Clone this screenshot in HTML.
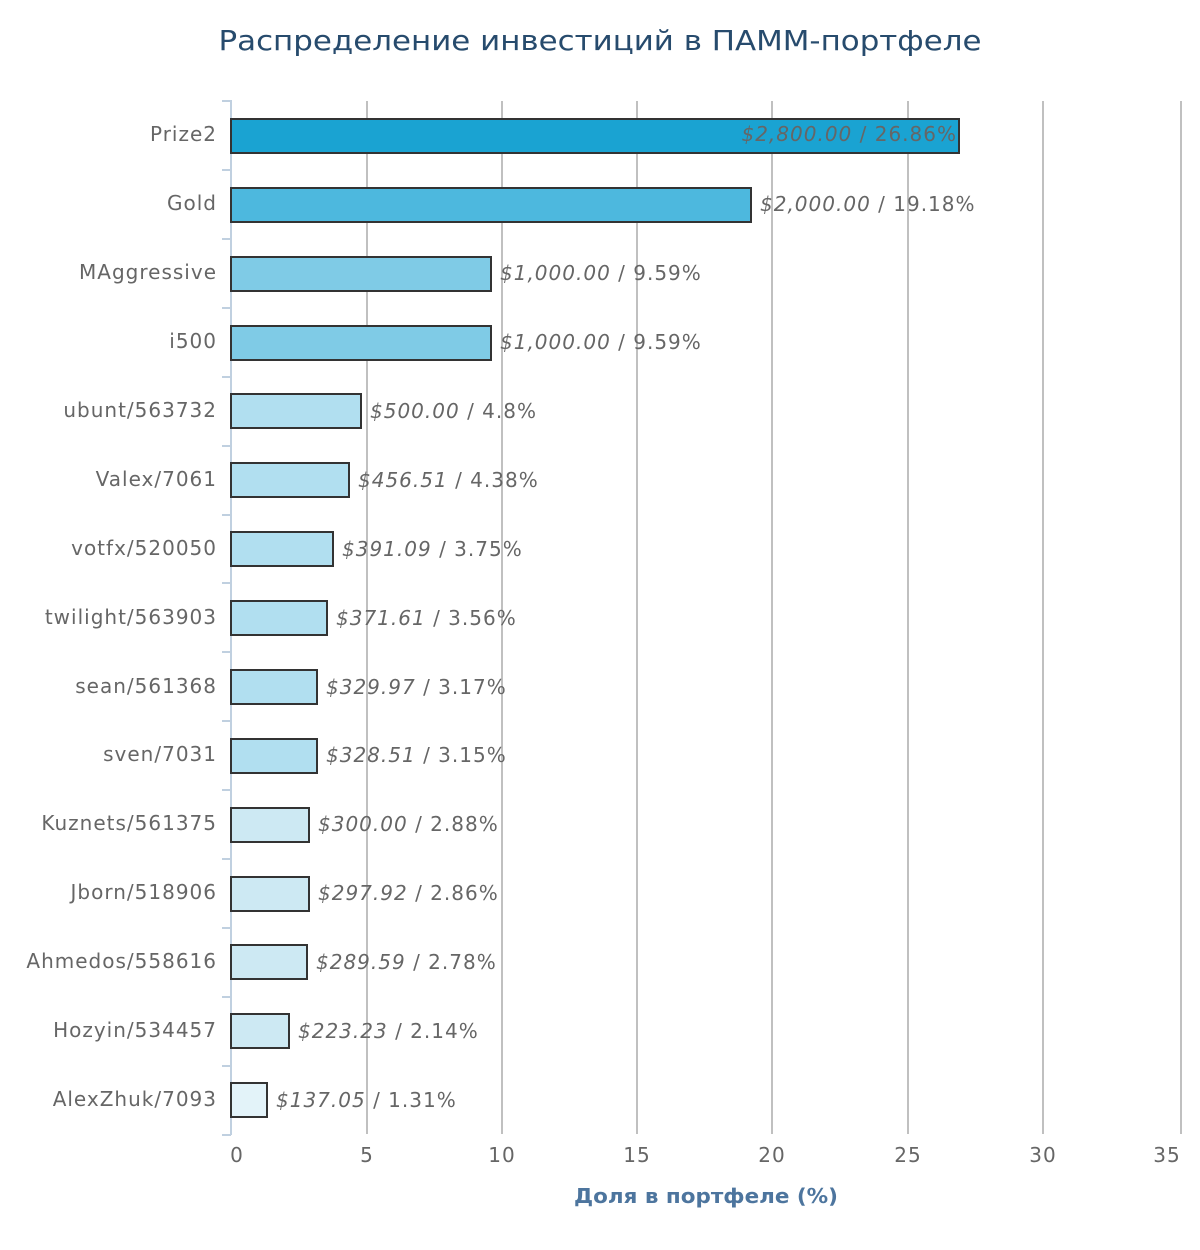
<!DOCTYPE html>
<html><head><meta charset="utf-8"><style>
body{margin:0;background:#fff}
svg{display:block;font-family:"DejaVu Sans","Liberation Sans",sans-serif}
.c{font-size:20px;fill:#666;text-anchor:end;letter-spacing:1px}
.d{font-size:20px;fill:#666;letter-spacing:1px}
.d tspan.i{font-style:italic}
.t{font-size:20px;fill:#666;text-anchor:middle;letter-spacing:1px}
</style></head><body>
<svg width="1200" height="1250" viewBox="0 0 1200 1250">
<text x="600" y="50" font-size="28" fill="#274b6d" text-anchor="middle" textLength="763" lengthAdjust="spacingAndGlyphs">Распределение инвестиций в ПАММ-портфеле</text>
<g stroke="#c0c0c0" stroke-width="2">
<line x1="367" y1="101" x2="367" y2="1134"/><line x1="502" y1="101" x2="502" y2="1134"/>
<line x1="637" y1="101" x2="637" y2="1134"/><line x1="772" y1="101" x2="772" y2="1134"/>
<line x1="908" y1="101" x2="908" y2="1134"/><line x1="1043" y1="101" x2="1043" y2="1134"/>
<line x1="1181" y1="101" x2="1181" y2="1134"/>
</g>
<g stroke="#c0d0e0" stroke-width="2">
<line x1="231" y1="100" x2="231" y2="1135"/>
<line x1="222" y1="101" x2="231" y2="101"/><line x1="222" y1="170" x2="231" y2="170"/><line x1="222" y1="239" x2="231" y2="239"/><line x1="222" y1="308" x2="231" y2="308"/><line x1="222" y1="377" x2="231" y2="377"/><line x1="222" y1="446" x2="231" y2="446"/><line x1="222" y1="515" x2="231" y2="515"/><line x1="222" y1="583" x2="231" y2="583"/><line x1="222" y1="652" x2="231" y2="652"/><line x1="222" y1="721" x2="231" y2="721"/><line x1="222" y1="790" x2="231" y2="790"/><line x1="222" y1="859" x2="231" y2="859"/><line x1="222" y1="928" x2="231" y2="928"/><line x1="222" y1="997" x2="231" y2="997"/><line x1="222" y1="1066" x2="231" y2="1066"/><line x1="222" y1="1135" x2="231" y2="1135"/>
</g>
<g stroke="#333" stroke-width="2">
<rect x="231" y="119" width="728" height="34" fill="#1aa3d2"/>
<rect x="231" y="188" width="520" height="34" fill="#4db8de"/>
<rect x="231" y="257" width="260" height="34" fill="#7fcbe6"/>
<rect x="231" y="326" width="260" height="34" fill="#7fcbe6"/>
<rect x="231" y="394" width="130" height="34" fill="#b1dff0"/>
<rect x="231" y="463" width="118" height="34" fill="#b1dff0"/>
<rect x="231" y="532" width="102" height="34" fill="#b1dff0"/>
<rect x="231" y="601" width="96" height="34" fill="#b1dff0"/>
<rect x="231" y="670" width="86" height="34" fill="#b1dff0"/>
<rect x="231" y="739" width="86" height="34" fill="#b1dff0"/>
<rect x="231" y="808" width="78" height="34" fill="#cde9f3"/>
<rect x="231" y="877" width="78" height="34" fill="#cde9f3"/>
<rect x="231" y="945" width="76" height="34" fill="#cde9f3"/>
<rect x="231" y="1014" width="58" height="34" fill="#cde9f3"/>
<rect x="231" y="1083" width="36" height="34" fill="#e3f3f9"/>
</g>
<g class="c">
<text x="217" y="141">Prize2</text><text x="217" y="210">Gold</text><text x="217" y="279">MAggressive</text><text x="217" y="348">i500</text><text x="217" y="417">ubunt/563732</text><text x="217" y="486">Valex/7061</text><text x="217" y="555">votfx/520050</text><text x="217" y="624">twilight/563903</text><text x="217" y="693">sean/561368</text><text x="217" y="761">sven/7031</text><text x="217" y="830">Kuznets/561375</text><text x="217" y="899">Jborn/518906</text><text x="217" y="968">Ahmedos/558616</text><text x="217" y="1037">Hozyin/534457</text><text x="217" y="1106">AlexZhuk/7093</text>
</g>
<g class="d">
<text x="957" y="141" text-anchor="end"><tspan class="i">$2,800.00</tspan> / 26.86%</text>
<text x="760" y="211"><tspan class="i">$2,000.00</tspan> / 19.18%</text>
<text x="500" y="280"><tspan class="i">$1,000.00</tspan> / 9.59%</text>
<text x="500" y="349"><tspan class="i">$1,000.00</tspan> / 9.59%</text>
<text x="370" y="418"><tspan class="i">$500.00</tspan> / 4.8%</text>
<text x="358" y="487"><tspan class="i">$456.51</tspan> / 4.38%</text>
<text x="342" y="556"><tspan class="i">$391.09</tspan> / 3.75%</text>
<text x="336" y="625"><tspan class="i">$371.61</tspan> / 3.56%</text>
<text x="326" y="694"><tspan class="i">$329.97</tspan> / 3.17%</text>
<text x="326" y="762"><tspan class="i">$328.51</tspan> / 3.15%</text>
<text x="318" y="831"><tspan class="i">$300.00</tspan> / 2.88%</text>
<text x="318" y="900"><tspan class="i">$297.92</tspan> / 2.86%</text>
<text x="316" y="969"><tspan class="i">$289.59</tspan> / 2.78%</text>
<text x="298" y="1038"><tspan class="i">$223.23</tspan> / 2.14%</text>
<text x="276" y="1107"><tspan class="i">$137.05</tspan> / 1.31%</text>
</g>
<g class="t">
<text x="237" y="1162">0</text><text x="367" y="1162">5</text><text x="502" y="1162">10</text><text x="637" y="1162">15</text><text x="772" y="1162">20</text><text x="908" y="1162">25</text><text x="1043" y="1162">30</text><text x="1167" y="1162">35</text>
</g>
<text x="706" y="1203" font-size="20" font-weight="bold" fill="#4d759e" text-anchor="middle" textLength="264" lengthAdjust="spacingAndGlyphs">Доля в портфеле (%)</text>
</svg>
</body></html>
